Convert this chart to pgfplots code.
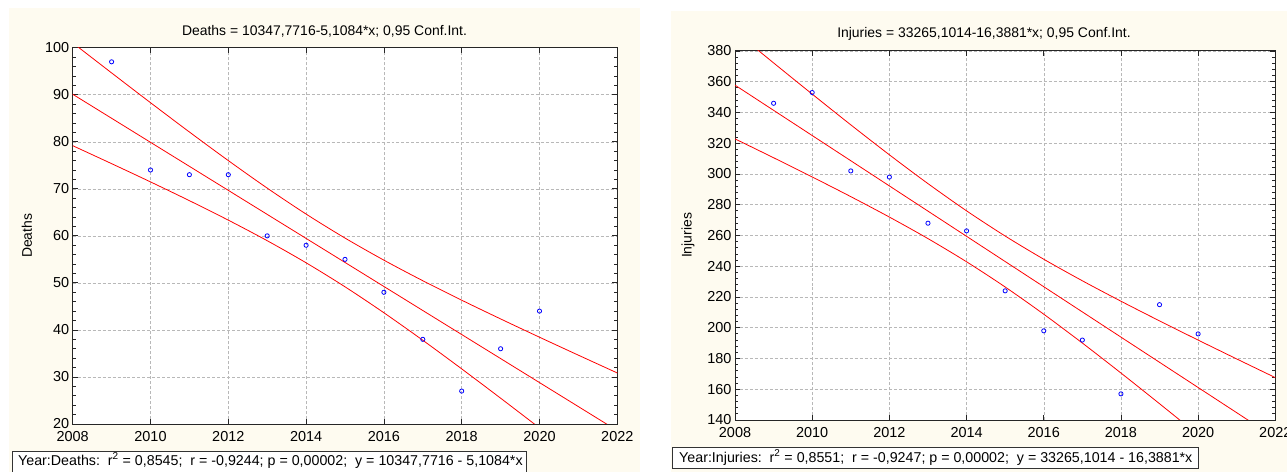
\documentclass[border=0pt]{standalone}
\usepackage{fontspec}
\setmainfont{Liberation Sans}
\usepackage{pgfplots}
\pgfplotsset{compat=1.18}
\definecolor{cream}{RGB}{254,251,240}
\newcommand\fs{\fontsize{14.5}{17}\selectfont}
\newcommand\fb{\fontsize{14.3}{17}\selectfont}
\newcommand\ft{\fontsize{14}{16}\selectfont}
\pgfplotsset{
  statstyle/.style={
    anchor=south west, scale only axis,
    xmin=2008, xmax=2022,
    xtick={2008,2010,...,2022},
    minor x tick num=1, minor y tick num=4,
    grid=major,
    major grid style={densely dashed, black!28, line width=0.5pt},
    axis line style={black!85, line width=1pt},
    major tick length=5bp, minor tick length=3bp,
    tick style={black!85, line width=0.8pt},
    tick label style={font=\fs},
    xticklabel style={yshift=-3.5bp},
    /pgf/number format/assume math mode=true,
    /pgf/number format/1000 sep={},
    axis background/.style={fill=white},
  },
  pts/.style={only marks, mark=o, mark size=2.1bp, blue, mark options={line width=0.8pt}},
  fit/.style={red, line width=0.8pt, no marks},
  band/.style={red, line width=0.8pt, no marks, smooth},
}
\begin{document}
\begin{tikzpicture}
\useasboundingbox (0bp,0bp) rectangle (1287bp,472bp);
\clip (0bp,0bp) rectangle (1287bp,472bp);
\fill[white] (0bp,0bp) rectangle (1287bp,472bp);
\fill[cream] (9bp,0bp) rectangle (640bp,464bp);
\fill[cream] (671bp,0bp) rectangle (1287bp,461bp);

\begin{axis}[statstyle,
  at={(72.7bp,48bp)}, width=544.6bp, height=376.3bp,
  ymin=20, ymax=100, ytick={20,30,...,100},
  ylabel={Deaths},
  every axis y label/.style={at={(axis description cs:-0.0839,0.5)}, rotate=90, anchor=center, font=\ft},
]
\addplot[pts] coordinates {(2009,97) (2010,74) (2011,73) (2012,73) (2013,60) (2014,58) (2015,55) (2016,48) (2017,38) (2018,27) (2019,36) (2020,44)};
\addplot[fit] coordinates {(2008,90.104) (2022,18.587)};
\addplot[band] coordinates {(2008,101.03) (2009,94.64) (2010,88.31) (2011,82.08) (2012,76.00) (2013,70.15) (2014,64.63) (2015,59.53) (2016,54.83) (2017,50.46) (2018,46.32) (2019,42.34) (2020,38.45) (2021,34.63) (2022,30.85)};
\addplot[band] coordinates {(2008,79.17) (2009,75.35) (2010,71.47) (2011,67.48) (2012,63.34) (2013,58.97) (2014,54.27) (2015,49.17) (2016,43.65) (2017,37.80) (2018,31.72) (2019,25.49) (2020,19.16) (2021,12.77) (2022,6.33)};
\end{axis}

\begin{axis}[statstyle,
  at={(735bp,52bp)}, width=540.3bp, height=369bp,
  ymin=140, ymax=380, ytick={140,160,...,380},
  ylabel={Injuries},
  every axis y label/.style={at={(axis description cs:-0.087,0.5)}, rotate=90, anchor=center, font=\ft},
]
\addplot[pts] coordinates {(2009,346) (2010,353) (2011,302) (2012,298) (2013,268) (2014,263) (2015,224) (2016,198) (2017,192) (2018,157) (2019,215) (2020,196)};
\addplot[fit] coordinates {(2008,357.80) (2022,128.36)};
\addplot[band] coordinates {(2008,392.76) (2009,372.25) (2010,351.96) (2011,331.98) (2012,312.49) (2013,293.74) (2014,276.04) (2015,259.65) (2016,244.57) (2017,230.55) (2018,217.27) (2019,204.47) (2020,191.98) (2021,179.71) (2022,167.58)};
\addplot[band] coordinates {(2008,322.84) (2009,310.57) (2010,298.08) (2011,285.28) (2012,271.99) (2013,257.98) (2014,242.90) (2015,226.51) (2016,208.81) (2017,190.05) (2018,170.57) (2019,150.59) (2020,130.30) (2021,109.79) (2022,89.14)};
\end{axis}

\node[font=\ft] at (324.5bp,441bp) {Deaths = 10347,7716-5,1084*x; 0,95 Conf.Int.};
\node[font=\ft] at (984bp,438bp) {Injuries = 33265,1014-16,3881*x; 0,95 Conf.Int.};

\draw[black!80, line width=0.8pt, fill=white] (12bp,-6bp) rectangle (526bp,21bp);
\node[font=\fb, anchor=base west, inner sep=0pt] at (18bp,7bp) {Year:Deaths:\ \ r\textsuperscript{2} = 0,8545;\ \ r = -0,9244; p = 0,00002;\ \ y = 10347,7716 - 5,1084*x};
\draw[black!80, line width=0.8pt, fill=white] (672bp,4bp) rectangle (1198bp,25bp);
\node[font=\fb, anchor=base west, inner sep=0pt] at (679bp,10bp) {Year:Injuries:\ \ r\textsuperscript{2} = 0,8551;\ \ r = -0,9247; p = 0,00002;\ \ y = 33265,1014 - 16,3881*x};
\end{tikzpicture}
\end{document}
